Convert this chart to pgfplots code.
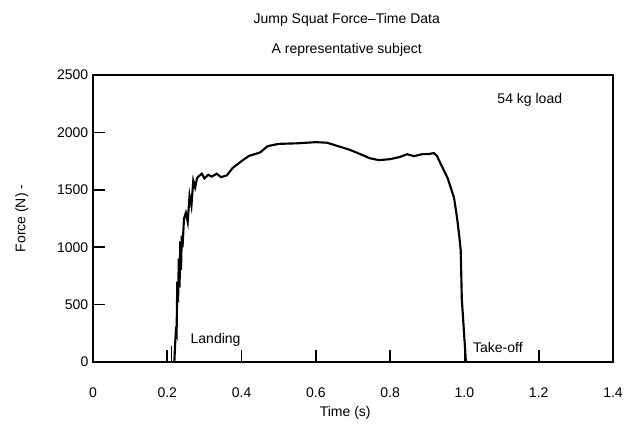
\documentclass[border=0pt]{standalone}
\usepackage{pgfplots}
\pgfplotsset{compat=1.18}
\usepackage{fontspec}
\setmainfont{Liberation Sans}

\begin{document}
\begin{tikzpicture}
\begin{axis}[
  name=ax,
  scale only axis,
  width=390pt, height=215.25pt,
  xmin=0, xmax=1.4, ymin=0, ymax=2500,
  xtick={0,0.2,0.4,0.6,0.8,1.0,1.2,1.4},
  xticklabels={0,0.2,0.4,0.6,0.8,1.0,1.2,1.4},
  ytick={0,500,1000,1500,2000,2500},
  yticklabels={0,500,1000,1500,2000,2500},
  xtick pos=bottom, ytick pos=left,
  tick align=inside,
  major tick length=9pt,
  every tick/.style={black, line width=1.2pt},
  axis line style={line width=1.5pt},
  font=\fontsize{10.5}{12}\selectfont,
  ticklabel style={font=\fontsize{10.5}{12}\selectfont},
  /pgf/number format/assume math mode=true,
  xticklabel style={yshift=-16pt},
  xlabel={Time (s)},
  ylabel={Force (N) -},
  xlabel style={at={(axis description cs:0.485,-0.179)}, anchor=center},
  ylabel style={at={(axis description cs:-0.137,0.5)}, anchor=center},
]
% force trace
\addplot[black, line width=1.6pt] coordinates {
  (0.219,0) (0.221,150) (0.223,260) (0.225,240) (0.227,700) (0.229,520)
  (0.231,900) (0.233,650) (0.235,1050) (0.237,800) (0.239,1100) (0.241,1000)
  (0.245,1250) (0.250,1300) (0.255,1220) (0.260,1450) (0.265,1360)
  (0.270,1580) (0.275,1520) (0.280,1600) (0.285,1620) (0.293,1640)
  (0.300,1600) (0.310,1630) (0.320,1615) (0.333,1640) (0.345,1610)
  (0.360,1625) (0.376,1690) (0.400,1750) (0.420,1795) (0.450,1825)
  (0.470,1880) (0.500,1900) (0.550,1905) (0.600,1915) (0.630,1910)
  (0.660,1880) (0.690,1850) (0.720,1810) (0.745,1775) (0.770,1758)
  (0.800,1767) (0.825,1785) (0.846,1810) (0.864,1793) (0.886,1810)
  (0.905,1812) (0.918,1820) (0.926,1795) (0.940,1700) (0.955,1600)
  (0.972,1431) (0.980,1259) (0.986,1100) (0.990,974) (0.993,543)
  (0.998,300) (1.001,150) (1.004,0)
};
% small pre-landing spike
\addplot[black, line width=1pt] coordinates {(0.212,0) (0.212,140)};
\node[anchor=center] at (axis cs:0.33,190) {Landing};
\node[anchor=center] at (axis cs:1.09,130) {Take-off};
\node[anchor=center] at (axis cs:1.176,2280) {54 kg load};
\end{axis}
\node[anchor=center, font=\fontsize{10.5}{12}\selectfont] at (190.3pt,256.6pt) {Jump Squat Force--Time Data};
\node[anchor=center, font=\fontsize{10.5}{12}\selectfont] at (190.3pt,233.9pt) {A representative subject};
\pgfresetboundingbox
\path (-69.75pt,-54pt) rectangle (404.25pt,271.5pt);
\end{tikzpicture}
\end{document}
